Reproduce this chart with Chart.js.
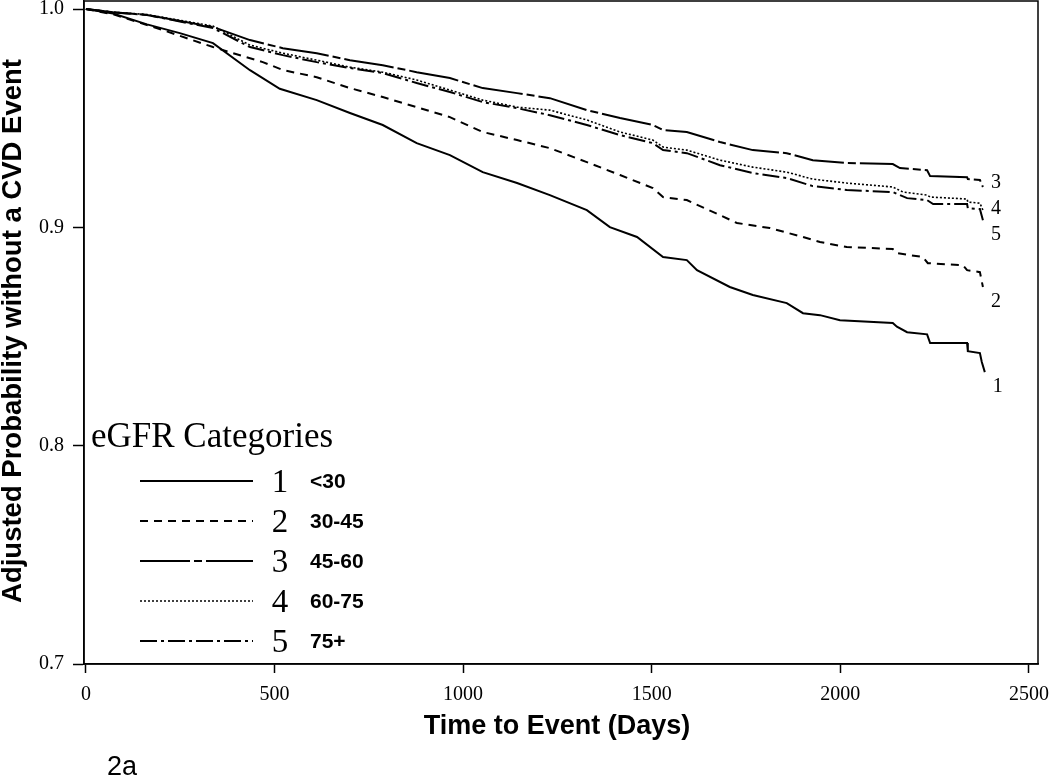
<!DOCTYPE html>
<html>
<head>
<meta charset="utf-8">
<script src="https://cdn.jsdelivr.net/npm/chart.js@4.4.1/dist/chart.umd.min.js"></script>
<style>
  body { margin: 0; background: #fff; }
  #wrap { width: 1050px; height: 777px; }
</style>
</head>
<body>
<div id="wrap"><canvas id="myChart" width="1050" height="777"></canvas></div>
<script>
// categories
var categoryNums = ['1', '2', '3', '4', '5'];
var categoryNames = ['<30', '30-45', '45-60', '60-75', '75+'];

// tick labels
var xTicks = [0, 500, 1000, 1500, 2000, 2500];
var yTicks = [0.7, 0.8, 0.9, 1.0];

// series values (days, adjusted probability)
var cat1Days = [0, 72, 162, 249, 337, 435, 514, 612, 700, 787, 877, 965, 1052, 1143, 1230, 1328, 1389, 1461, 1530, 1593, 1620, 1707, 1768, 1858, 1901, 1946, 1999, 2139, 2150, 2177, 2230, 2238, 2336, 2338, 2370, 2375, 2383];
var cat1Surv = [1.0, 0.998, 0.993, 0.989, 0.9844, 0.972, 0.9635, 0.9583, 0.9524, 0.9469, 0.9386, 0.9331, 0.9253, 0.9203, 0.9148, 0.9079, 0.9001, 0.8956, 0.8864, 0.885, 0.8804, 0.8727, 0.869, 0.8653, 0.8607, 0.8598, 0.8575, 0.8562, 0.8545, 0.852, 0.851, 0.847, 0.847, 0.8433, 0.8424, 0.8383, 0.8337];

var cat2Days = [0, 72, 204, 337, 469, 522, 612, 700, 787, 877, 965, 1052, 1143, 1230, 1328, 1416, 1503, 1530, 1593, 1681, 1726, 1813, 1901, 1946, 2017, 2139, 2150, 2219, 2232, 2325, 2336, 2370, 2378];
var cat2Surv = [1.0, 0.9976, 0.9904, 0.9826, 0.9757, 0.9721, 0.9688, 0.9638, 0.9597, 0.9551, 0.9505, 0.9437, 0.94, 0.9363, 0.9299, 0.924, 0.918, 0.9139, 0.9125, 0.9056, 0.902, 0.8997, 0.8956, 0.8933, 0.891, 0.8901, 0.8882, 0.8864, 0.8836, 0.8827, 0.8804, 0.8795, 0.8727];

var cat3Days = [0, 72, 162, 337, 435, 522, 612, 700, 787, 877, 965, 1052, 1143, 1230, 1328, 1416, 1503, 1530, 1593, 1681, 1768, 1858, 1927, 2017, 2139, 2158, 2230, 2238, 2336, 2338, 2370, 2378];
var cat3Surv = [1.0, 0.9986, 0.9973, 0.9918, 0.9858, 0.9821, 0.9798, 0.9766, 0.9743, 0.9711, 0.9684, 0.9638, 0.9615, 0.9592, 0.9537, 0.9501, 0.9469, 0.9446, 0.9437, 0.9391, 0.9354, 0.934, 0.9308, 0.9295, 0.929, 0.9272, 0.9262, 0.9235, 0.923, 0.9221, 0.9217, 0.9185];

var cat4Days = [0, 72, 162, 337, 435, 522, 612, 700, 787, 877, 965, 1052, 1143, 1230, 1328, 1416, 1503, 1530, 1593, 1681, 1768, 1858, 1927, 2017, 2139, 2166, 2230, 2238, 2336, 2338, 2370, 2378];
var cat4Surv = [1.0, 0.9986, 0.9975, 0.9922, 0.9835, 0.9798, 0.9766, 0.9734, 0.9711, 0.9675, 0.9629, 0.9583, 0.9551, 0.9537, 0.9492, 0.9437, 0.94, 0.9368, 0.9354, 0.9308, 0.9276, 0.9253, 0.9221, 0.9203, 0.9185, 0.9162, 0.9148, 0.9139, 0.913, 0.9116, 0.9111, 0.9079];

var cat5Days = [0, 72, 162, 337, 435, 522, 612, 700, 787, 877, 965, 1052, 1143, 1230, 1328, 1416, 1503, 1530, 1593, 1681, 1768, 1858, 1927, 2017, 2139, 2177, 2230, 2246, 2336, 2338, 2370, 2378];
var cat5Surv = [1.0, 0.9985, 0.9973, 0.9913, 0.9826, 0.9789, 0.9757, 0.973, 0.9707, 0.9661, 0.962, 0.9574, 0.9546, 0.9514, 0.9469, 0.9423, 0.9386, 0.9354, 0.934, 0.9285, 0.9249, 0.9226, 0.9189, 0.9171, 0.9162, 0.9134, 0.9125, 0.9107, 0.9107, 0.9088, 0.9084, 0.9033];

var allDays = [cat1Days, cat2Days, cat3Days, cat4Days, cat5Days];
var allSurv = [cat1Surv, cat2Surv, cat3Surv, cat4Surv, cat5Surv];

// line looks for each category
var dashes = [[], [8, 6], [50, 4, 8, 4], [2, 2], [17, 4, 3, 4]];
var widths = [2, 2, 2, 1.6, 2];
// pixel nudge for the number written at the end of each curve
var endNudge = [15, 15, -4, -1, 15];

function toPoints(days, surv) {
  var pts = [];
  for (var i = 0; i < days.length; i++) pts.push({ x: days[i], y: surv[i] });
  return pts;
}

var datasets = [];
for (var i = 0; i < categoryNums.length; i++) {
  datasets.push({
    label: categoryNums[i],
    data: toPoints(allDays[i], allSurv[i]),
    borderColor: '#000',
    borderWidth: widths[i],
    borderDash: dashes[i],
    pointRadius: 0,
    tension: 0,
    fill: false
  });
}

// frame, titles, curve numbers, legend
var decorations = {
  id: 'decorations',
  afterDraw: function(chart) {
    var ctx = chart.ctx;
    var a = chart.chartArea;
    var xs = chart.scales.x, ys = chart.scales.y;
    ctx.save();
    ctx.strokeStyle = '#000';
    ctx.fillStyle = '#000';
    ctx.lineWidth = 1.5;
    ctx.setLineDash([]);
    ctx.strokeRect(a.left, a.top, a.right - a.left, a.bottom - a.top);

    // axis titles
    ctx.font = 'bold 27px "Liberation Sans", Arial, sans-serif';
    ctx.textAlign = 'center';
    ctx.textBaseline = 'middle';
    ctx.fillText('Time to Event (Days)', 557, 727);
    ctx.save();
    ctx.translate(13, 331);
    ctx.rotate(-Math.PI / 2);
    ctx.font = 'bold 27.5px "Liberation Sans", Arial, sans-serif';
    ctx.fillText('Adjusted Probability without a CVD Event', 0, 0);
    ctx.restore();

    // 2a
    ctx.font = '27px "Liberation Sans", Arial, sans-serif';
    ctx.textAlign = 'left';
    ctx.textBaseline = 'alphabetic';
    ctx.fillText('2a', 107, 775);

    // numbers at the end of each curve
    ctx.font = '20px "Liberation Serif", "Times New Roman", serif';
    ctx.textBaseline = 'middle';
    for (var i = 0; i < categoryNums.length; i++) {
      var d = allDays[i], s = allSurv[i];
      var px = xs.getPixelForValue(d[d.length - 1]);
      var py = ys.getPixelForValue(s[s.length - 1]);
      ctx.fillText(categoryNums[i], px + 8, py + endNudge[i]);
    }

    // legend
    ctx.font = '35px "Liberation Serif", "Times New Roman", serif';
    ctx.textBaseline = 'alphabetic';
    ctx.fillText('eGFR Categories', 91, 447);
    for (var j = 0; j < categoryNums.length; j++) {
      var ry = 481 + j * 40;
      ctx.beginPath();
      ctx.lineWidth = widths[j];
      ctx.setLineDash(dashes[j]);
      ctx.moveTo(140, ry);
      ctx.lineTo(253, ry);
      ctx.stroke();
      ctx.setLineDash([]);
      ctx.textBaseline = 'middle';
      ctx.textAlign = 'center';
      ctx.font = '33px "Liberation Serif", "Times New Roman", serif';
      ctx.fillText(categoryNums[j], 280, ry + 2);
      ctx.textAlign = 'left';
      ctx.font = 'bold 21px "Liberation Sans", Arial, sans-serif';
      ctx.fillText(categoryNames[j], 310, ry + 1);
    }
    ctx.restore();
  }
};

var config = {
  type: 'line',
  data: { datasets: datasets },
  options: {
    responsive: false,
    animation: false,
    layout: { padding: { top: 1, right: 12, left: 0, bottom: 0 } },
    plugins: { legend: { display: false }, tooltip: { enabled: false } },
    scales: {
      x: {
        type: 'linear',
        min: -5,
        max: 2524,
        afterBuildTicks: function(scale) {
          scale.ticks = xTicks.map(function(v) { return { value: v }; });
        },
        afterFit: function(scale) {
          scale.height = 113;
          scale.paddingLeft = 0;
          scale.paddingRight = 0;
        },
        grid: { drawOnChartArea: false, drawTicks: true, tickLength: 9, color: '#000', tickWidth: 1.5 },
        border: { color: '#000', width: 1.5 },
        ticks: {
          color: '#000',
          padding: 10,
          maxRotation: 0,
          font: { family: '"Liberation Serif", "Times New Roman", serif', size: 20 },
          callback: function(v) { return String(v); }
        }
      },
      y: {
        type: 'linear',
        min: 0.7,
        max: 1.0037,
        afterBuildTicks: function(scale) {
          scale.ticks = yTicks.map(function(v) { return { value: v }; });
        },
        afterFit: function(scale) {
          scale.width = 84;
          scale.paddingTop = 0;
          scale.paddingBottom = 0;
        },
        grid: { drawOnChartArea: false, drawTicks: true, tickLength: 11, color: '#000', tickWidth: 1.5 },
        border: { color: '#000', width: 1.5 },
        ticks: {
          color: '#000',
          padding: 9,
          font: { family: '"Liberation Serif", "Times New Roman", serif', size: 20 },
          callback: function(v) { return Number(v).toFixed(1); }
        }
      }
    }
  },
  plugins: [decorations]
};

const myChart = new Chart(document.getElementById('myChart'), config);
</script>
</body>
</html>
